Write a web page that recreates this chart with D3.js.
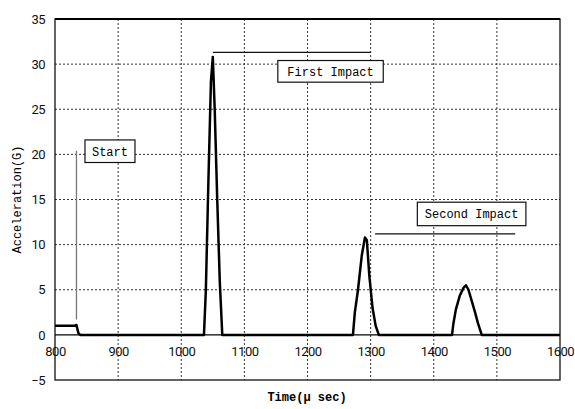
<!DOCTYPE html>
<html lang="en">
<head>
    <meta charset="UTF-8">
    <title>Acceleration</title>
    <script src="https://cdn.jsdelivr.net/npm/d3@7"></script>
    <style>
        body { margin: 0; background: #fff; }
    </style>
</head>
<body>
</body>
<script>
    // time in micro seconds
    const time = [800, 831, 834, 837, 840, 1036, 1039, 1043, 1047, 1050, 1053, 1057, 1061, 1065,
        1272, 1275, 1280, 1286, 1291, 1294, 1298, 1303, 1308, 1313,
        1429, 1431, 1435, 1441, 1447, 1451, 1455, 1460, 1465, 1470, 1476, 1600];
    // acceleration (G)
    const accel = [1.0, 1.0, 1.1, 0.2, 0, 0, 5, 17, 28, 30.8, 25, 15, 6, 0,
        0, 2.5, 5, 8.8, 10.8, 10.5, 6.5, 3, 1, 0,
        0, 1.2, 2.8, 4.3, 5.2, 5.5, 5.0, 3.8, 2.6, 1.3, 0, 0];

    const xTicks = [800, 900, 1000, 1100, 1200, 1300, 1400, 1500, 1600];
    const yTicks = [-5, 0, 5, 10, 15, 20, 25, 30, 35];

    const width = 575;
    const height = 409;
    const margin = {top: 19, right: 15, bottom: 29, left: 55};

    const svg = d3.select("body")
    .append("svg")
        .attr("width", width)
        .attr("height", height);

    const x = d3.scaleLinear().domain([800, 1600]).range([margin.left, width - margin.right]);
    const y = d3.scaleLinear().domain([-5, 35]).range([height - margin.bottom, margin.top]);

    // grid
    svg.append("g")
        .selectAll("line")
        .data(xTicks.slice(1, -1))
        .enter()
        .append("line")
        .attr("x1", d => x(d)).attr("x2", d => x(d))
        .attr("y1", y(35)).attr("y2", y(-5))
        .attr("stroke", "#333")
        .attr("stroke-width", 1)
        .attr("stroke-dasharray", "2,2");

    svg.append("g")
        .selectAll("line")
        .data(yTicks.filter(d => d != 0 && d != 35 && d != -5))
        .enter()
        .append("line")
        .attr("x1", x(800)).attr("x2", x(1600))
        .attr("y1", d => y(d)).attr("y2", d => y(d))
        .attr("stroke", "#333")
        .attr("stroke-width", 1)
        .attr("stroke-dasharray", "2,2");

    // frame
    svg.append("rect")
        .attr("x", x(800))
        .attr("y", y(35))
        .attr("width", x(1600) - x(800))
        .attr("height", y(-5) - y(35))
        .attr("fill", "none")
        .attr("stroke", "#111")
        .attr("stroke-width", 1.3);

    svg.append("line")
        .attr("x1", x(800)).attr("x2", x(1600))
        .attr("y1", y(35)).attr("y2", y(35))
        .attr("stroke", "#000")
        .attr("stroke-width", 2);

    // zero line
    svg.append("line")
        .attr("x1", x(800)).attr("x2", x(1600))
        .attr("y1", y(0)).attr("y2", y(0))
        .attr("stroke", "#000")
        .attr("stroke-width", 1.2);

    // axes
    const tickFont = "Roboto, 'Liberation Sans', sans-serif";

    const yAxis = svg.append("g")
        .attr("transform", `translate(${x(800)},0)`)
        .call(d3.axisLeft(y).tickValues(yTicks).tickSize(0).tickPadding(10)
            .tickFormat(d => d < 0 ? "\u22125" : d));
    yAxis.select(".domain").remove();
    yAxis.selectAll("text")
        .style("font-family", tickFont)
        .style("font-size", "13px")
        .style("letter-spacing", "-0.5px")
        .attr("fill", "#111");

    const xAxis = svg.append("g")
        .attr("transform", `translate(0,${y(0)})`)
        .call(d3.axisBottom(x).tickValues(xTicks).tickSize(0).tickPadding(12)
            .tickFormat(d3.format("d")));
    xAxis.select(".domain").remove();
    xAxis.selectAll("text")
        .style("font-family", tickFont)
        .style("font-size", "13px")
        .style("letter-spacing", "-0.5px")
        .attr("fill", "#111");

    // axis titles
    svg.append("text")
        .attr("transform", `translate(21, ${(y(35) + y(-5)) / 2}) rotate(-90)`)
        .attr("text-anchor", "middle")
        .style("font-family", "'Liberation Mono', monospace")
        .style("font-size", "12px")
        .text("Acceleration(G)");

    svg.append("text")
        .attr("x", 307)
        .attr("y", 401)
        .attr("text-anchor", "middle")
        .style("font-family", "'Liberation Mono', monospace")
        .style("font-size", "12px")
        .style("font-weight", "bold")
        .text("Time(\u03bc sec)");

    // series
    const line = d3.line()
        .x((d, i) => x(time[i]))
        .y(d => y(d));

    svg.append("path")
        .attr("d", line(accel))
        .attr("fill", "none")
        .attr("stroke", "#000")
        .attr("stroke-width", 2.5)
        .attr("stroke-linejoin", "round");

    // annotations
    svg.append("line")
        .attr("x1", x(834)).attr("x2", x(834))
        .attr("y1", y(20.4)).attr("y2", y(1.7))
        .attr("stroke", "#777")
        .attr("stroke-width", 1.3);

    svg.append("line")
        .attr("x1", x(1050)).attr("x2", x(1300))
        .attr("y1", y(31.3)).attr("y2", y(31.3))
        .attr("stroke", "#111")
        .attr("stroke-width", 1.2);

    svg.append("line")
        .attr("x1", x(1307)).attr("x2", x(1529))
        .attr("y1", y(11.2)).attr("y2", y(11.2))
        .attr("stroke", "#111")
        .attr("stroke-width", 1.2);

    const labels = [
        { text: "Start", t0: 847.5, t1: 926.7, v0: 21.6, v1: 19.1 },
        { text: "First Impact", t0: 1153, t1: 1320, v0: 30.4, v1: 28 },
        { text: "Second Impact", t0: 1374, t1: 1546, v0: 14.7, v1: 12.1 }
    ];

    const lab = svg.append("g")
        .selectAll("g")
        .data(labels)
        .enter()
        .append("g");

    lab.append("rect")
        .attr("x", d => x(d.t0))
        .attr("y", d => y(d.v0))
        .attr("width", d => x(d.t1) - x(d.t0))
        .attr("height", d => y(d.v1) - y(d.v0))
        .attr("fill", "#fff")
        .attr("stroke", "#111")
        .attr("stroke-width", 1.2);

    lab.append("text")
        .attr("x", d => (x(d.t0) + x(d.t1)) / 2)
        .attr("y", d => (y(d.v0) + y(d.v1)) / 2 + 4.5)
        .attr("text-anchor", "middle")
        .style("font-family", "'Liberation Mono', monospace")
        .style("font-size", "12px")
        .text(d => d.text);
</script>
</html>
